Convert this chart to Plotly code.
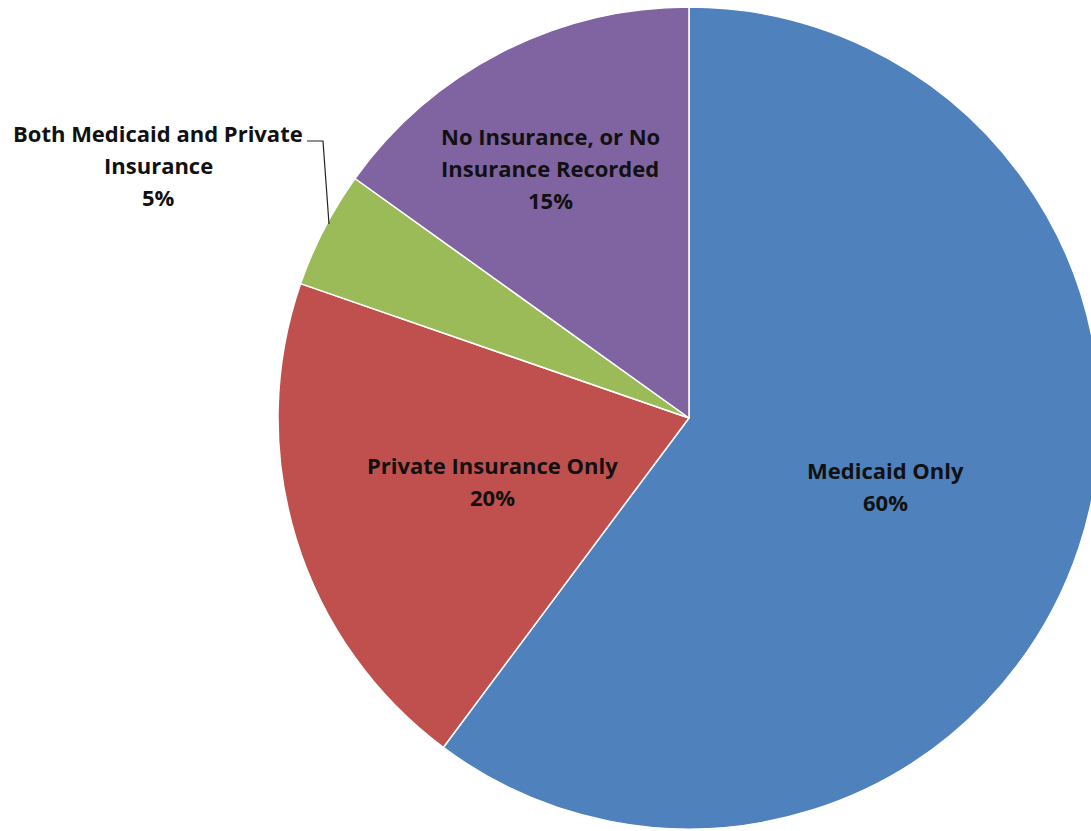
import plotly.graph_objects as go

categories = ["Medicaid Only", "Private Insurance Only", "Both Medicaid and Private Insurance",
              "No Insurance, or No Insurance Recorded"]
values = [60.2, 20.1, 4.6, 15.1]
colors = ["#4F81BD", "#C0504D", "#9BBB59", "#8064A2"]
label_lines = [["Medicaid Only"], ["Private Insurance Only"],
               ["Both Medicaid and Private", "Insurance"],
               ["No Insurance, or No", "Insurance Recorded"]]

W, H = 1110, 831

def px(x, y):
    return x / W, 1 - y / H

fig = go.Figure(go.Pie(
    labels=categories, values=values, sort=False, direction="clockwise", rotation=0,
    marker=dict(colors=colors, line=dict(color="white", width=1.5)),
    textinfo="none", hoverinfo="label+percent", showlegend=False,
    domain=dict(x=[278 / W, 1100 / W], y=[1 - 829 / H, 1 - 7 / H]),
))

# label anchor (center x, first line y) and line spacing
anchors = [(885, 470), (492, 465), (158, 133), (550, 136)]
spacing = 32
font = dict(family="Open Sans", size=22, color="#111111")
for lines, v, (ax, ay) in zip(label_lines, values, anchors):
    allines = lines + [f"{round(v / sum(values) * 100):.0f}%"]
    for i, t in enumerate(allines):
        x, y = px(ax, ay + i * spacing)
        fig.add_annotation(x=x, y=y, xref="paper", yref="paper", text=f"<b>{t}</b>",
                           showarrow=False, font=font, xanchor="center", yanchor="middle")

# leader line for small slice
p = [px(307, 141), px(323, 141), px(329, 224)]
fig.add_shape(type="path", xref="paper", yref="paper",
              path=f"M {p[0][0]} {p[0][1]} L {p[1][0]} {p[1][1]} L {p[2][0]} {p[2][1]}",
              line=dict(color="#222222", width=1.2))

fig.update_layout(width=W, height=H, margin=dict(l=0, r=0, t=0, b=0),
                  paper_bgcolor="white", plot_bgcolor="white")

fig.write_html("out.html", post_script="document.body.style.overflow='hidden';document.body.style.margin='0';")
